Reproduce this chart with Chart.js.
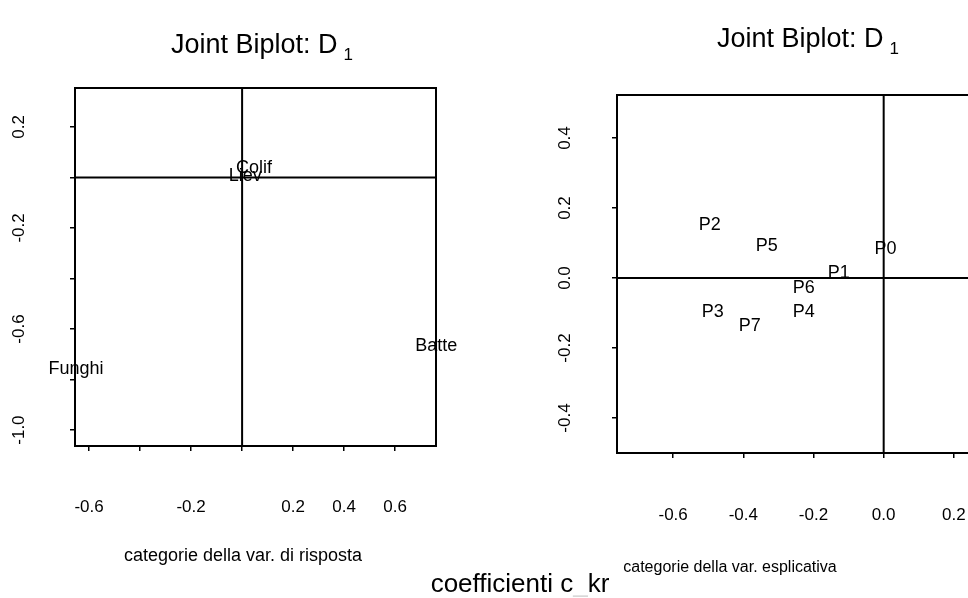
<!DOCTYPE html>
<html><head><meta charset="utf-8">
<script src="https://cdn.jsdelivr.net/npm/chart.js@4/dist/chart.umd.min.js"></script>
<style>
html,body{margin:0;padding:0;background:#fff;}
body{width:968px;height:598px;overflow:hidden;position:relative;}
canvas{position:absolute;top:0;}
</style></head><body>
<canvas id="c1" width="640" height="598" style="left:0"></canvas>
<canvas id="c2" width="520" height="598" style="left:520px"></canvas>
<script>
// ---- data: response categories (left panel)
const respCategories = ['Colif', 'Liev', 'Funghi', 'Batte'];
const respX = [0.047, 0.012, -0.651, 0.761];
const respY = [0.036, 0.004, -0.758, -0.667];
const respXTicks = [-0.6, -0.4, -0.2, 0, 0.2, 0.4, 0.6];
const respXTickLabels = ['-0.6', '', '-0.2', '', '0.2', '0.4', '0.6'];
const respYTicks = [0.2, 0, -0.2, -0.4, -0.6, -0.8, -1.0];
const respYTickLabels = ['0.2', '', '-0.2', '', '-0.6', '', '-1.0'];

// ---- data: explanatory categories (right panel)
const explCategories = ['P0', 'P1', 'P2', 'P3', 'P4', 'P5', 'P6', 'P7'];
const explX = [0.005, -0.128, -0.496, -0.487, -0.228, -0.333, -0.228, -0.382];
const explY = [0.083, 0.014, 0.151, -0.097, -0.097, 0.091, -0.029, -0.137];
const explXTicks = [-0.6, -0.4, -0.2, 0, 0.2];
const explXTickLabels = ['-0.6', '-0.4', '-0.2', '0.0', '0.2'];
const explYTicks = [0.4, 0.2, 0, -0.2, -0.4];
const explYTickLabels = ['0.4', '0.2', '0.0', '-0.2', '-0.4'];

const titleMain = 'Joint Biplot: D';
const titleSub = '1';
const respAxisTitle = 'categorie della var. di risposta';
const explAxisTitle = 'categorie della var. esplicativa';
const footerParts = ['coefficienti c', '_', 'kr'];

const FONT = '"Liberation Sans", Arial, Helvetica, sans-serif';
Chart.defaults.font.family = FONT;
Chart.defaults.color = '#000';

function lbl(vals, labels, v) {
  for (let k = 0; k < vals.length; k++) if (Math.abs(vals[k] - v) < 1e-9) return labels[k];
  return '';
}

function framePlugin(o) {
  return {
    id: 'frame',
    afterDraw(chart) {
      const ctx = chart.ctx, a = chart.chartArea;
      const sx = chart.scales.x, sy = chart.scales.y;
      ctx.save();
      ctx.strokeStyle = '#000';
      ctx.lineWidth = 2;
      ctx.strokeRect(a.left, a.top, a.right - a.left, a.bottom - a.top);
      const x0 = sx.getPixelForValue(0), y0 = sy.getPixelForValue(0);
      ctx.beginPath();
      ctx.moveTo(x0, a.top); ctx.lineTo(x0, a.bottom);
      ctx.moveTo(a.left, y0); ctx.lineTo(a.right, y0);
      ctx.stroke();
      // category labels at the data points
      const meta = chart.getDatasetMeta(0);
      ctx.fillStyle = '#000';
      ctx.font = '18px ' + FONT;
      ctx.textAlign = 'center';
      ctx.textBaseline = 'middle';
      meta.data.forEach((el, i) => ctx.fillText(o.cats[i], el.x, el.y));
      // title
      ctx.textAlign = 'left';
      ctx.textBaseline = 'alphabetic';
      ctx.font = '27px ' + FONT;
      ctx.fillText(titleMain, o.titleX, o.titleY);
      const w = ctx.measureText(titleMain).width;
      ctx.font = '17px ' + FONT;
      ctx.fillText(titleSub, o.titleX + w + 6, o.titleY + 7);
      // axis title
      ctx.textAlign = 'center';
      ctx.textBaseline = 'middle';
      ctx.font = o.axisTitleSize + 'px ' + FONT;
      ctx.fillText(o.axisTitle, o.axisTitleX, o.axisTitleY);
      if (o.footer) {
        ctx.font = '26px ' + FONT;
        ctx.textAlign = 'left';
        const parts = footerParts;
        const total = parts.reduce((s, p) => s + ctx.measureText(p).width, 0);
        let x = o.footerX - total / 2;
        parts.forEach((p, i) => {
          ctx.fillStyle = i === 1 ? '#d8d8d8' : '#000';
          ctx.fillText(p, x, o.footerY);
          x += ctx.measureText(p).width;
        });
      }
      ctx.restore();
    }
  };
}

function makeChart(el, o) {
  return new Chart(el, {
    type: 'scatter',
    data: { datasets: [{ data: o.xs.map((x, i) => ({ x: x, y: o.ys[i] })), pointRadius: 0, pointHoverRadius: 0 }] },
    options: {
      responsive: false, animation: false, devicePixelRatio: 1, events: [],
      layout: { padding: o.pad },
      plugins: { legend: { display: false }, tooltip: { enabled: false }, title: { display: false } },
      scales: {
        x: {
          type: 'linear', position: 'bottom', bounds: 'data', min: o.xMin, max: o.xMax,
          afterBuildTicks: s => { s.ticks = o.xTicks.map(v => ({ value: v })); },
          afterFit: s => { s.height = o.xH; },
          ticks: { autoSkip: false, maxRotation: 0, minRotation: 0, padding: o.xPad, color: '#000', font: { size: 17 },
                   callback: v => lbl(o.xTicks, o.xTickLabels, v) },
          grid: { drawOnChartArea: false, drawTicks: true, tickLength: 5, color: '#000', lineWidth: 1.5 },
          border: { display: false }
        },
        y: {
          type: 'linear', position: 'left', bounds: 'data', min: o.yMin, max: o.yMax,
          afterBuildTicks: s => { s.ticks = o.yTicks.map(v => ({ value: v })); },
          afterFit: s => { s.width = o.yW; },
          ticks: { autoSkip: false, minRotation: 90, maxRotation: 90, crossAlign: 'center', padding: o.yPad, color: '#000', font: { size: 17 },
                   callback: v => lbl(o.yTicks, o.yTickLabels, v) },
          grid: { drawOnChartArea: false, drawTicks: true, tickLength: 5, color: '#000', lineWidth: 1.5 },
          border: { display: false }
        }
      }
    },
    plugins: [framePlugin(o)]
  });
}

makeChart(document.getElementById('c1'), {
  cats: respCategories, xs: respX, ys: respY,
  xMin: -0.655, xMax: 0.76, yMin: -1.063, yMax: 0.354,
  xTicks: respXTicks, xTickLabels: respXTickLabels, yTicks: respYTicks, yTickLabels: respYTickLabels,
  pad: { left: 0, top: 88, right: 204, bottom: 72 }, xH: 80, yW: 75, xPad: 46, yPad: 36,
  titleX: 171, titleY: 53, axisTitle: respAxisTitle, axisTitleSize: 18, axisTitleX: 243, axisTitleY: 556,
  footer: true, footerX: 520, footerY: 585
});

makeChart(document.getElementById('c2'), {
  cats: explCategories, xs: explX, ys: explY,
  xMin: -0.76, xMax: 0.36, yMin: -0.5, yMax: 0.523,
  xTicks: explXTicks, xTickLabels: explXTickLabels, yTicks: explYTicks, yTickLabels: explYTickLabels,
  pad: { left: 0, top: 95, right: 30, bottom: 65 }, xH: 80, yW: 97, xPad: 47, yPad: 32,
  titleX: 197, titleY: 47, axisTitle: explAxisTitle, axisTitleSize: 16, axisTitleX: 210, axisTitleY: 568,
  footer: false
});
</script>
</body></html>
